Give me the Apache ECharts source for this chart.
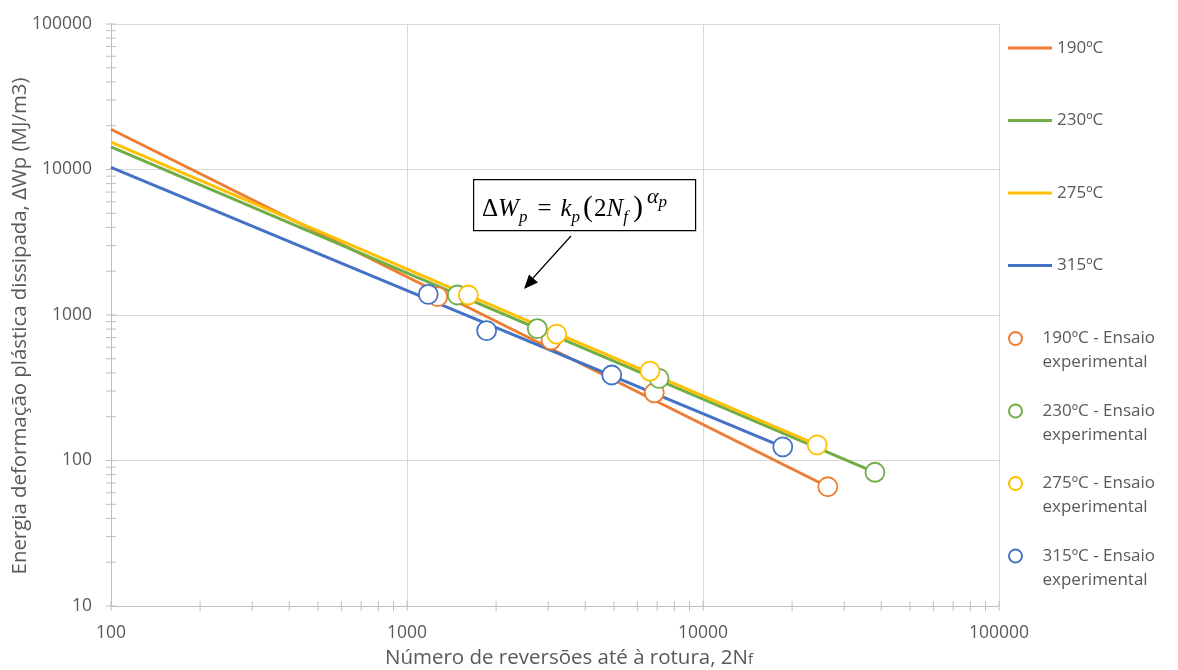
<!DOCTYPE html>
<html>
<head>
<meta charset="utf-8">
<script src="https://cdn.jsdelivr.net/npm/echarts@6/dist/echarts.min.js"></script>
<style>
html,body{margin:0;padding:0;background:#fff;}
#chart{width:1178px;height:670px;}
</style>
</head>
<body>
<div id="chart"></div>
<script>
// ---- data ----
const lineNames = ['190ºC', '230ºC', '275ºC', '315ºC'];
const expNames = ['190ºC - Ensaio experimental', '230ºC - Ensaio experimental', '275ºC - Ensaio experimental', '315ºC - Ensaio experimental'];
const colors = ['#ED7D31', '#70AD47', '#FFC000', '#4472C4'];

// fitted power-law lines (start / end points)
const fit190 = [[100, 18900], [26400, 66]];
const fit230 = [[100, 14300], [38100, 83]];
const fit275 = [[100, 15400], [24300, 128]];
const fit315 = [[100, 10350], [18600, 124]];

// experimental points [2Nf, ΔWp]
const exp190 = [[1270, 1336], [3065, 673], [6846, 292], [26400, 66]];
const exp230 = [[1479, 1372], [2756, 805], [7103, 367], [38100, 83]];
const exp275 = [[1611, 1372], [3204, 740], [6622, 412], [24300, 128]];
const exp315 = [[1180, 1387], [1858, 780], [4917, 387], [18600, 124]];

// axis ranges and tick positions
const xMin = 100, xMax = 100000, yMin = 10, yMax = 100000;
const tickMult = [1, 2, 3, 4, 5, 6, 7, 8, 9];
const xDecades = [100, 1000, 10000];
const yDecades = [10, 100, 1000, 10000];
const xTicks = [];
xDecades.forEach(d => tickMult.forEach(m => xTicks.push(m * d)));
xTicks.push(xMax);
const yTicks = [];
yDecades.forEach(d => tickMult.forEach(m => yTicks.push(m * d)));
yTicks.push(yMax);

const fits = [fit190, fit230, fit275, fit315];
const exps = [exp190, exp230, exp275, exp315];

const textColor = '#595959';
const font = 'Open Sans';

const chart = echarts.init(document.getElementById('chart'), null, {renderer: 'canvas'});

const series = [];
fits.forEach((d, i) => {
  series.push({
    name: lineNames[i], type: 'line', data: d, symbol: 'none',
    lineStyle: {color: colors[i], width: 3}, itemStyle: {color: colors[i]},
    z: 3, silent: true
  });
});
exps.forEach((d, i) => {
  series.push({
    name: expNames[i], type: 'scatter', data: d, symbol: 'circle', symbolSize: 19,
    itemStyle: {color: '#ffffff', borderColor: colors[i], borderWidth: 1.8, opacity: 1},
    z: 4, silent: true
  });
});
series.push({
  type: 'custom', silent: true, clip: false, z: 2,
  data: xTicks.map(v => [v, yMin]),
  renderItem: (params, api) => {
    const p = api.coord([api.value(0), yMin]);
    return {type: 'line', shape: {x1: p[0], y1: p[1] - 5, x2: p[0], y2: p[1] + 5},
      style: {stroke: '#bfbfbf', lineWidth: 1}};
  }
});
series.push({
  type: 'custom', silent: true, clip: false, z: 2,
  data: yTicks.map(v => [xMin, v]),
  renderItem: (params, api) => {
    const p = api.coord([xMin, api.value(1)]);
    return {type: 'line', shape: {x1: p[0] - 5, y1: p[1], x2: p[0] + 5, y2: p[1]},
      style: {stroke: '#bfbfbf', lineWidth: 1}};
  }
});

const serif = 'Liberation Serif';
const option = {
  animation: false,
  backgroundColor: '#ffffff',
  textStyle: {fontFamily: font},
  grid: {left: 111, right: 179, top: 24, bottom: 64, containLabel: false},
  xAxis: {
    type: 'log', logBase: 10, min: xMin, max: xMax,
    axisLine: {show: true, lineStyle: {color: '#bfbfbf', width: 1}},
    axisTick: {show: false},
    minorTick: {show: false},
    axisLabel: {color: textColor, fontSize: 17.5, fontFamily: font, margin: 18,
      formatter: v => String(Math.round(v))},
    splitLine: {show: true, lineStyle: {color: '#d9d9d9', width: 1}}
  },
  yAxis: {
    type: 'log', logBase: 10, min: yMin, max: yMax,
    axisLine: {show: true, lineStyle: {color: '#bfbfbf', width: 1}},
    axisTick: {show: false},
    minorTick: {show: false},
    axisLabel: {color: textColor, fontSize: 17.5, fontFamily: font, margin: 19,
      formatter: v => String(Math.round(v))},
    splitLine: {show: true, lineStyle: {color: '#d9d9d9', width: 1}}
  },
  legend: [
    {
      orient: 'vertical', left: 1008, top: 36, padding: 0,
      itemWidth: 44, itemHeight: 3, itemGap: 48.5, icon: 'rect',
      data: lineNames,
      textStyle: {color: textColor, fontSize: 17, fontFamily: font, lineHeight: 24},
      selectedMode: false
    },
    {
      orient: 'vertical', left: 1008, top: 302.5, padding: 0,
      itemWidth: 44, itemHeight: 13, itemGap: 0.5,
      data: expNames,
      formatter: n => '\n' + n.replace(' experimental', '\nexperimental'),
      textStyle: {color: textColor, fontSize: 17, fontFamily: font, lineHeight: 24},
      selectedMode: false
    }
  ],
  graphic: [
    {
      type: 'text', x: 20, y: 326, rotation: Math.PI / 2, z: 10,
      style: {text: 'Energia deformação plástica dissipada, ΔWp (MJ/m3)',
        fill: textColor, fontSize: 20.4, fontFamily: font, align: 'center', verticalAlign: 'middle'}
    },
    {
      type: 'text', x: 569, y: 658, z: 10,
      style: {text: 'Número de reversões até à rotura, 2N{s|f}',
        fill: textColor, fontSize: 20.5, fontFamily: font, align: 'center', verticalAlign: 'middle',
        rich: {s: {fontSize: 15, fill: textColor, fontFamily: font, padding: [4, 0, 0, 0]}}}
    },
    {
      type: 'rect', left: 473, top: 179, z: 10,
      shape: {width: 222, height: 51},
      style: {fill: '#ffffff', stroke: '#000000', lineWidth: 1.2}
    },
    {
      type: 'text', left: 482, top: 186, z: 11,
      style: {
        text: '{n|Δ}{i|W}{s|p}{e|=}{i|k}{s|p}{pl|(}{n|2}{i|N}{s|f}{pr|)}{sup|α}{ss|p}',
        rich: {
          n: {fontFamily: serif, fontSize: 25, lineHeight: 38, verticalAlign: 'bottom', padding: [0, 0, 4, 0], fill: '#000'},
          e: {fontFamily: serif, fontSize: 25, lineHeight: 38, verticalAlign: 'bottom', padding: [0, 9, 4, 9], fill: '#000'},
          i: {fontFamily: serif, fontStyle: 'italic', fontSize: 25, lineHeight: 38, verticalAlign: 'bottom', padding: [0, 0, 4, 0], fill: '#000'},
          pl: {fontFamily: serif, fontSize: 30, lineHeight: 40, verticalAlign: 'bottom', padding: [0, 1, 3, 2], fill: '#000'},
          pr: {fontFamily: serif, fontSize: 30, lineHeight: 40, verticalAlign: 'bottom', padding: [0, 1, 3, 4], fill: '#000'},
          s: {fontFamily: serif, fontStyle: 'italic', fontSize: 17, lineHeight: 16, verticalAlign: 'bottom', padding: [0, 1, 0, 0], fill: '#000'},
          sup: {fontFamily: serif, fontStyle: 'italic', fontSize: 22, lineHeight: 18, verticalAlign: 'top', padding: [0, 0, 0, 3], fill: '#000'},
          ss: {fontFamily: serif, fontStyle: 'italic', fontSize: 17, lineHeight: 14, verticalAlign: 'top', padding: [8, 0, 0, 0], fill: '#000'}
        }
      }
    },
    {
      type: 'line', z: 10,
      shape: {x1: 571, y1: 236, x2: 533, y2: 278},
      style: {stroke: '#000', lineWidth: 1.2}
    },
    {
      type: 'polygon', z: 10,
      shape: {points: [[524, 289], [538, 282.5], [529, 274.5]]},
      style: {fill: '#000'}
    }
  ],
  series: series
};
chart.setOption(option);
</script>
</body>
</html>
